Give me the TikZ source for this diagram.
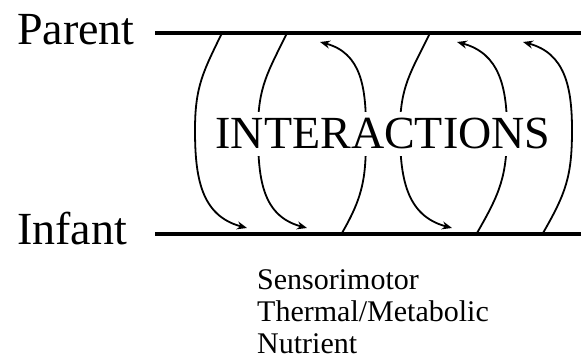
\documentclass[tikz,border=0pt]{standalone}
\usepackage{fontspec}
\setmainfont{Liberation Serif}
\usetikzlibrary{arrows.meta}

\begin{document}
\begin{tikzpicture}[
    x=1pt, y=1pt,
    who/.style={inner sep=0pt, anchor=base west, font=\fontsize{46}{50}\selectfont},
    banner/.style={fill=white, inner xsep=5pt, inner ysep=7pt, anchor=base, font=\fontsize{46}{50}\selectfont},
    kinds/.style={inner sep=0pt, anchor=north west, align=left, font=\fontsize{30}{32}\selectfont},
    rail/.style={line width=4pt},
    swing/.style={line width=1.8pt, looseness=1.1, -{Stealth[length=10pt, width=8pt]}}
]
\useasboundingbox (0,0) rectangle (581,359);

\node[who] (parent) at (17,314) {Parent};
\node[who] (infant) at (17,114) {Infant};

\coordinate (p0) at (155,326); \coordinate (p1) at (581,326);
\coordinate (i0) at (155,125); \coordinate (i1) at (581,125);
\draw[rail] (p0) -- (p1);
\draw[rail] (i0) -- (i1);

% parent to infant, bulging left
\coordinate (a0) at (222,326); \coordinate (am) at (195,229); \coordinate (a1) at (247,131);
\coordinate (b0) at (287,326); \coordinate (bm) at (258,229); \coordinate (b1) at (307,131);
\coordinate (d0) at (430,326); \coordinate (dm) at (400,229); \coordinate (d1) at (452,131);
\draw[swing] (a0) to[out=244,in=90] (am) to[out=270,in=165] (a1);
\draw[swing] (b0) to[out=244,in=90] (bm) to[out=270,in=165] (b1);
\draw[swing] (d0) to[out=244,in=90] (dm) to[out=270,in=165] (d1);

% infant to parent, bulging right
\coordinate (c0) at (342,126); \coordinate (cm) at (366,229); \coordinate (c1) at (320,317);
\coordinate (e0) at (477,126); \coordinate (em) at (507,229); \coordinate (e1) at (457,317);
\coordinate (f0) at (543,126); \coordinate (fm) at (572,229); \coordinate (f1) at (523,317);
\draw[swing] (c0) to[out=60,in=270] (cm) to[out=90,in=345] (c1);
\draw[swing] (e0) to[out=60,in=270] (em) to[out=90,in=345] (e1);
\draw[swing] (f0) to[out=60,in=270] (fm) to[out=90,in=345] (f1);

\node[banner] (inter) at (383,210) {INTERACTIONS};

\node[kinds] (kinds) at (257,90) {Sensorimotor\\Thermal/Metabolic\\Nutrient};

\end{tikzpicture}
\end{document}
